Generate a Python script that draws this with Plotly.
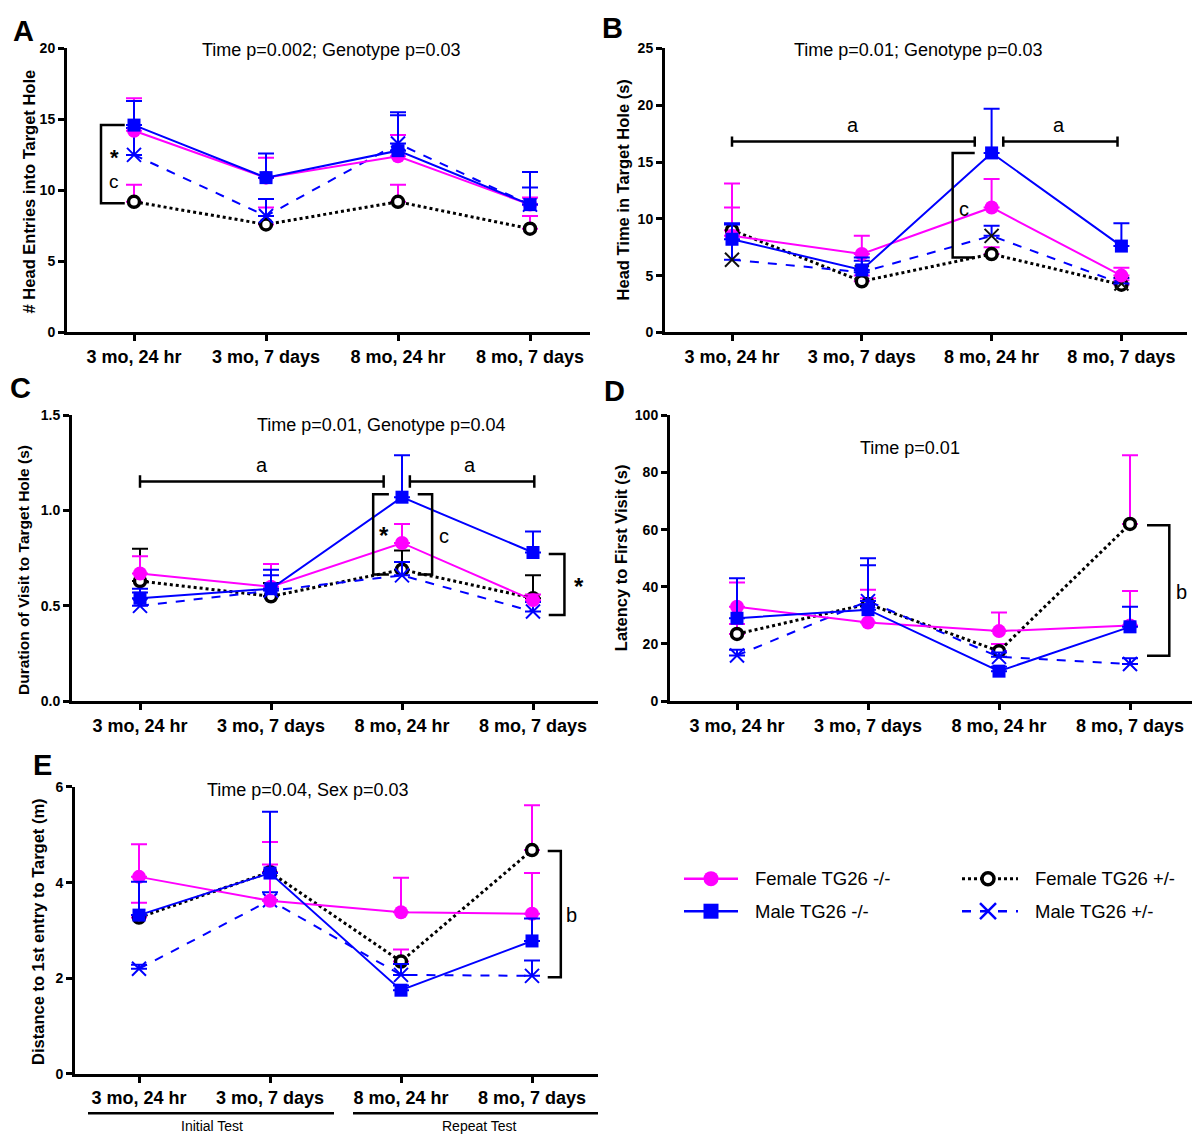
import plotly.graph_objects as go

W, H = 1203, 1145
FONT = "Liberation Sans"
MAG = "#FF00FF"
BLUE = "#0000FF"

CATEGORIES = ["3 mo, 24 hr", "3 mo, 7 days", "8 mo, 24 hr", "8 mo, 7 days"]
SERIES = ["Female TG26 -/-", "Male TG26 -/-", "Female TG26 +/-", "Male TG26 +/-"]

# Panel A: # Head Entries into Target Hole (mean, upper error-bar end)
A_female_ko = [14.2, 10.9, 12.4, 9.0]
A_female_ko_up = [16.5, 12.3, 13.9, 9.5]
A_male_ko = [14.6, 10.9, 12.8, 9.0]
A_male_ko_up = [16.3, 12.6, 15.5, 11.3]
A_female_het = [9.2, 7.6, 9.2, 7.3]
A_female_het_up = [10.4, 8.8, 10.4, 8.2]
A_male_het = [12.5, 8.2, 13.3, 9.0]
A_male_het_up = [14.4, 9.4, 15.3, 10.2]

# Panel B: Head Time in Target Hole (s)
B_female_ko = [8.5, 6.9, 11.0, 5.0]
B_female_ko_up = [13.1, 8.5, 13.5, 5.7]
B_male_ko = [8.2, 5.5, 15.8, 7.6]
B_male_ko_up = [9.6, 6.6, 19.7, 9.6]
B_female_het = [9.0, 4.5, 6.9, 4.2]
B_female_het_up = [11.0, 5.0, 7.5, 4.6]
B_male_het = [6.4, 5.3, 8.5, 4.3]
B_male_het_up = [9.5, 6.3, 9.4, 4.8]

# Panel C: Duration of Visit to Target Hole (s)
C_female_ko = [0.67, 0.60, 0.83, 0.53]
C_female_ko_up = [0.76, 0.72, 0.93, 0.56]
C_male_ko = [0.54, 0.59, 1.07, 0.78]
C_male_ko_up = [0.59, 0.69, 1.29, 0.89]
C_female_het = [0.63, 0.55, 0.69, 0.54]
C_female_het_up = [0.80, 0.62, 0.79, 0.66]
C_male_het = [0.50, 0.58, 0.66, 0.47]
C_male_het_up = [0.57, 0.66, 0.73, 0.52]

# Panel D: Latency to First Visit (s)
D_female_ko = [33.0, 27.5, 24.5, 26.5]
D_female_ko_up = [41.5, 39.0, 31.0, 38.5]
D_male_ko = [29.0, 32.0, 10.5, 26.0]
D_male_ko_up = [43.0, 50.0, 12.0, 33.0]
D_female_het = [23.5, 34.0, 17.5, 62.0]
D_female_het_up = [27.0, 36.0, 20.0, 86.0]
D_male_het = [16.0, 35.0, 15.5, 13.0]
D_male_het_up = [18.0, 47.5, 17.0, 15.0]

# Panel E: Distance to 1st entry to Target (m)
E_female_ko = [4.12, 3.62, 3.38, 3.35]
E_female_ko_up = [4.80, 4.38, 4.10, 4.20]
E_male_ko = [3.32, 4.20, 1.75, 2.78]
E_male_ko_up = [4.02, 5.48, 1.85, 3.25]
E_female_het = [3.27, 4.22, 2.35, 4.68]
E_female_het_up = [3.58, 4.85, 2.60, 5.62]
E_male_het = [2.20, 3.63, 2.07, 2.05]
E_male_het_up = [2.28, 3.80, 2.30, 2.37]

X = list(range(len(CATEGORIES)))


def xp(p):
    return p / W


def yp(p):
    return 1 - p / H


fig = go.Figure()

panels = [
    dict(i=1, l=67, r=590, t=41, b=329, t0=134, s=132, yr=[0, 20], dt=5, fmt="",
         ytitle="# Head Entries into Target Hole", ytx=29, yty=186, yts=16.5,
         title="Time p=0.002; Genotype p=0.03", tx=331, ty=43, letter="A", lx=23, ly=23,
         data=(A_female_ko, A_female_ko_up, A_male_ko, A_male_ko_up, A_female_het, A_female_het_up,
               A_male_het, A_male_het_up), fhe_col=MAG, mhe_col=BLUE),
    dict(i=2, l=665, r=1187, t=41, b=329, t0=732, s=129.8, yr=[0, 25], dt=5, fmt="",
         ytitle="Head Time in Target Hole (s)", ytx=623, yty=185, yts=16.5,
         title="Time p=0.01; Genotype p=0.03", tx=918, ty=43, letter="B", lx=612, ly=20,
         data=(B_female_ko, B_female_ko_up, B_male_ko, B_male_ko_up, B_female_het, B_female_het_up,
               B_male_het, B_male_het_up), fhe_col=MAG, mhe_col="#111111"),
    dict(i=3, l=72, r=598, t=413, b=703, t0=140, s=131, yr=[0, 1.5], dt=0.5, fmt=".1f",
         ytitle="Duration of Visit to Target Hole (s)", ytx=23, yty=570, yts=15.5,
         title="Time p=0.01, Genotype p=0.04", tx=381, ty=423, letter="C", lx=20, ly=385,
         data=(C_female_ko, C_female_ko_up, C_male_ko, C_male_ko_up, C_female_het, C_female_het_up,
               C_male_het, C_male_het_up), fhe_col="black", mhe_col=BLUE),
    dict(i=4, l=670, r=1192, t=413, b=703, t0=737, s=131, yr=[0, 100], dt=20, fmt="",
         ytitle="Latency to First Visit (s)", ytx=621, yty=558, yts=16.5,
         title="Time p=0.01", tx=910, ty=446, letter="D", lx=614, ly=388,
         data=(D_female_ko, D_female_ko_up, D_male_ko, D_male_ko_up, D_female_het, D_female_het_up,
               D_male_het, D_male_het_up), fhe_col=MAG, mhe_col=BLUE),
    dict(i=5, l=75, r=598, t=790, b=1081, t0=139, s=131, yr=[0, 6], dt=2, fmt="",
         ytitle="Distance to 1st entry to Target (m)", ytx=38, yty=937, yts=16.5,
         title="Time p=0.04, Sex p=0.03", tx=307, ty=793, letter="E", lx=42, ly=768,
         data=(E_female_ko, E_female_ko_up, E_male_ko, E_male_ko_up, E_female_het, E_female_het_up,
               E_male_het, E_male_het_up), fhe_col=MAG, mhe_col=BLUE),
]

annotations = []
shapes = []


def err(vals, ups):
    return dict(type="data", symmetric=False, array=[u - v for v, u in zip(vals, ups)],
                arrayminus=[0] * len(vals), thickness=2, width=8)


for p in panels:
    i = p["i"]
    xa = "x" if i == 1 else f"x{i}"
    ya = "y" if i == 1 else f"y{i}"
    fko, fkou, mko, mkou, fhe, fheu, mhe, mheu = p["data"]

    # Female +/- (black open circle, dotted)
    e = err(fhe, fheu); e["color"] = p["fhe_col"]
    fig.add_trace(go.Scatter(x=X, y=fhe, xaxis=xa, yaxis=ya, mode="lines+markers", name=SERIES[2],
                             line=dict(color="black", width=3, dash="dot"),
                             marker=dict(symbol="circle", size=11, color="white",
                                         line=dict(color="black", width=3.5)),
                             error_y=e, cliponaxis=False, showlegend=False))
    # Male +/- (blue x, dashed)
    e = err(mhe, mheu); e["color"] = BLUE
    fig.add_trace(go.Scatter(x=X, y=mhe, xaxis=xa, yaxis=ya, mode="lines+markers", name=SERIES[3],
                             line=dict(color=BLUE, width=2, dash="dash"),
                             marker=dict(symbol="x-thin-open", size=14, color=p["mhe_col"],
                                         line=dict(color=p["mhe_col"], width=2)),
                             error_y=e, cliponaxis=False, showlegend=False))
    # Female -/- (magenta circle)
    e = err(fko, fkou); e["color"] = MAG
    fig.add_trace(go.Scatter(x=X, y=fko, xaxis=xa, yaxis=ya, mode="lines+markers", name=SERIES[0],
                             line=dict(color=MAG, width=2),
                             marker=dict(symbol="circle", size=14, color=MAG),
                             error_y=e, cliponaxis=False, showlegend=False))
    # Male -/- (blue square)
    e = err(mko, mkou); e["color"] = BLUE
    fig.add_trace(go.Scatter(x=X, y=mko, xaxis=xa, yaxis=ya, mode="lines+markers", name=SERIES[1],
                             line=dict(color=BLUE, width=2),
                             marker=dict(symbol="square", size=13, color=BLUE),
                             error_y=e, cliponaxis=False, showlegend=False))

    xr = [(p["l"] - p["t0"]) / p["s"], (p["r"] - p["t0"]) / p["s"]]
    axkey_x = "xaxis" if i == 1 else f"xaxis{i}"
    axkey_y = "yaxis" if i == 1 else f"yaxis{i}"
    fig.update_layout(**{
        axkey_x: dict(domain=[xp(p["l"]), xp(p["r"])], range=xr, anchor=ya,
                      tickvals=X, ticktext=CATEGORIES, showline=True, linecolor="black",
                      linewidth=3, ticks="outside", ticklen=6, tickwidth=2.5, tickcolor="black",
                      showgrid=False, zeroline=False, fixedrange=True,
                      tickfont=dict(family=FONT, size=18, color="black", weight="bold")),
        axkey_y: dict(domain=[yp(p["b"]), yp(p["t"])], range=p["yr"], anchor=xa,
                      dtick=p["dt"], tick0=0, tickformat=p["fmt"], showline=True, linecolor="black",
                      linewidth=3, ticks="outside", ticklen=6, tickwidth=2.5, tickcolor="black",
                      showgrid=False, zeroline=False, fixedrange=True,
                      tickfont=dict(family=FONT, size=14, color="black", weight="bold")),
    })
    annotations.append(dict(text=p["ytitle"], x=xp(p["ytx"]), y=yp(p["yty"]), xref="paper", yref="paper",
                            textangle=-90, showarrow=False, xanchor="center", yanchor="middle",
                            font=dict(family=FONT, size=p["yts"], color="black", weight="bold")))
    annotations.append(dict(text=p["title"], x=xp(p["tx"]), y=yp(p["ty"]), xref="paper", yref="paper",
                            showarrow=False, xanchor="center", yanchor="middle",
                            font=dict(family=FONT, size=18, color="black")))
    annotations.append(dict(text=p["letter"], x=xp(p["lx"]), y=yp(p["ly"]), xref="paper", yref="paper",
                            showarrow=False, xanchor="center", yanchor="middle",
                            font=dict(family=FONT, size=29, color="black", weight="bold")))


def bracket(xa, ya, path):
    shapes.append(dict(type="path", path=path, xref=xa, yref=ya,
                       line=dict(color="black", width=2.5), layer="above"))


def label(xa, ya, x, y, t, size=20, bold=False):
    annotations.append(dict(text=t, x=x, y=y, xref=xa, yref=ya, showarrow=False,
                            xanchor="center", yanchor="middle",
                            font=dict(family=FONT, size=size, color="black",
                                      weight="bold" if bold else "normal")))


# Panel A bracket
bracket("x", "y", "M -0.07,14.6 L -0.25,14.6 L -0.25,9.1 L -0.07,9.1")
label("x", "y", -0.15, 12.3, "*", 22, True)
label("x", "y", -0.15, 10.6, "c", 19)

# Panel B brackets
bracket("x2", "y2", "M 0,16.35 L 0,17.25 M 0,16.8 L 1.87,16.8 M 1.87,16.35 L 1.87,17.25")
bracket("x2", "y2", "M 2.09,16.35 L 2.09,17.25 M 2.09,16.8 L 2.97,16.8 M 2.97,16.35 L 2.97,17.25")
label("x2", "y2", 0.93, 18.3, "a")
label("x2", "y2", 2.52, 18.3, "a")
bracket("x2", "y2", "M 1.87,15.8 L 1.70,15.8 L 1.70,6.6 L 1.87,6.6")
label("x2", "y2", 1.79, 10.9, "c")

# Panel C brackets
bracket("x3", "y3", "M 0,1.12 L 0,1.185 M 0,1.152 L 1.86,1.152 M 1.86,1.12 L 1.86,1.185")
bracket("x3", "y3", "M 2.06,1.12 L 2.06,1.185 M 2.06,1.152 L 3.01,1.152 M 3.01,1.12 L 3.01,1.185")
label("x3", "y3", 0.93, 1.24, "a")
label("x3", "y3", 2.52, 1.24, "a")
bracket("x3", "y3", "M 1.90,1.085 L 1.78,1.085 L 1.78,0.665 L 1.90,0.665")
bracket("x3", "y3", "M 2.12,1.085 L 2.23,1.085 L 2.23,0.665 L 2.12,0.665")
label("x3", "y3", 1.86, 0.87, "*", 24, True)
label("x3", "y3", 2.32, 0.865, "c")
bracket("x3", "y3", "M 3.12,0.772 L 3.24,0.772 L 3.24,0.452 L 3.12,0.452")
label("x3", "y3", 3.35, 0.60, "*", 24, True)

# Panel D bracket
bracket("x4", "y4", "M 3.13,61.5 L 3.30,61.5 L 3.30,15.9 L 3.13,15.9")
label("x4", "y4", 3.39, 38.2, "b")

# Panel E bracket
bracket("x5", "y5", "M 3.12,4.66 L 3.22,4.66 L 3.22,2.02 L 3.12,2.02")
label("x5", "y5", 3.30, 3.33, "b")

# Panel E grouping lines
shapes.append(dict(type="line", xref="paper", yref="paper", x0=xp(88), x1=xp(334), y0=yp(1121), y1=yp(1121),
                   line=dict(color="black", width=2.5)))
shapes.append(dict(type="line", xref="paper", yref="paper", x0=xp(353), x1=xp(598), y0=yp(1121), y1=yp(1121),
                   line=dict(color="black", width=2.5)))
annotations.append(dict(text="Initial Test", x=xp(212), y=yp(1134), xref="paper", yref="paper",
                        xanchor="center", yanchor="middle",
                        showarrow=False, font=dict(family=FONT, size=14, color="black")))
annotations.append(dict(text="Repeat Test", x=xp(479), y=yp(1134), xref="paper", yref="paper",
                        xanchor="center", yanchor="middle",
                        showarrow=False, font=dict(family=FONT, size=14, color="black")))

# Legend (drawn manually on a hidden axis in pixel coordinates)
LX0, LX1, LY0, LY1 = 600, 1203, 860, 960
fig.update_layout(
    xaxis6=dict(domain=[xp(LX0), xp(LX1)], range=[LX0, LX1], visible=False, fixedrange=True, anchor="y6"),
    yaxis6=dict(domain=[yp(LY1), yp(LY0)], range=[LY1, LY0], visible=False, fixedrange=True, anchor="x6"),
)
legend_items = [
    (SERIES[0], 684, 738, 711, 883, dict(color=MAG, width=2.5),
     dict(symbol="circle", size=15, color=MAG)),
    (SERIES[1], 684, 738, 711, 916, dict(color=BLUE, width=2.5),
     dict(symbol="square", size=15, color=BLUE)),
    (SERIES[2], 962, 1018, 988, 883, dict(color="black", width=3, dash="dot"),
     dict(symbol="circle", size=12, color="white", line=dict(color="black", width=3.5))),
    (SERIES[3], 962, 1018, 988, 916, dict(color=BLUE, width=2.5, dash="dash"),
     dict(symbol="x-thin-open", size=16, color=BLUE, line=dict(color=BLUE, width=2.5))),
]
for name, x0, x1, xm, yy, ln, mk in legend_items:
    fig.add_trace(go.Scatter(x=[x0, x1], y=[yy, yy], xaxis="x6", yaxis="y6", mode="lines",
                             line=ln, showlegend=False, hoverinfo="skip", cliponaxis=False))
    fig.add_trace(go.Scatter(x=[xm], y=[yy], xaxis="x6", yaxis="y6", mode="markers",
                             marker=mk, showlegend=False, hoverinfo="skip", cliponaxis=False))
    annotations.append(dict(text=name, x=x1 + 15, y=yy, xref="x6", yref="y6", showarrow=False,
                            xanchor="left", yanchor="middle",
                            font=dict(family=FONT, size=18.5, color="black")))

fig.update_layout(
    width=W, height=H, margin=dict(l=0, r=0, t=0, b=0),
    paper_bgcolor="white", plot_bgcolor="rgba(0,0,0,0)",
    showlegend=False, annotations=annotations, shapes=shapes,
    font=dict(family=FONT, color="black"),
)

fig.write_html("out.html", config={"displayModeBar": False},
               post_script="document.body.style.margin='0';document.body.style.padding='0';"
                           "document.body.style.overflow='hidden';")
